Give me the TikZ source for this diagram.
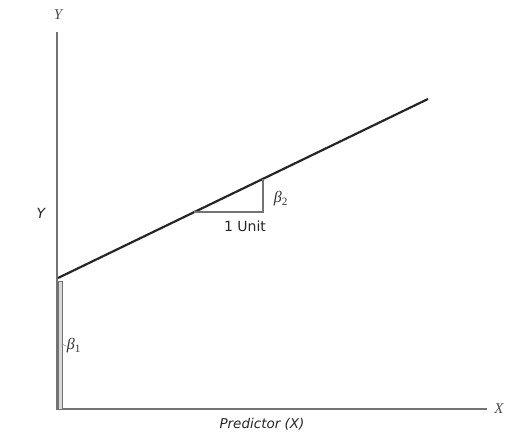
\documentclass[tikz,border=0pt]{standalone}
\usepackage{fontspec}
\newfontfamily\labelfont{DejaVu Sans}
\newfontfamily\axisfont{Liberation Serif}
\usepackage{amsmath}
\usetikzlibrary{positioning, calc}

\begin{document}
\begin{tikzpicture}[
    x=1pt, y=-1pt,
    every node/.style={font=\labelfont\fontsize{14}{16}\selectfont, inner sep=1pt, text=black!85},
    axis/.style={draw=black!55, line width=1.8pt},
    fit line/.style={draw=black!85, line width=2.2pt},
    leg/.style={draw=black!55, line width=1.3pt},
    axlabel/.style={font=\axisfont\itshape\fontsize{15}{17}\selectfont, text=black!70},
    mathlabel/.style={font=\axisfont\itshape\fontsize{16}{18}\selectfont, text=black!80},
    bar/.style={draw=black!55, fill=black!15, line width=0.8pt}
]
    \useasboundingbox (0,0) rectangle (517,434);

    % axes
    \coordinate (o) at (57,409);
    \coordinate (ytop) at (57,32);
    \coordinate (xend) at (487,409);
    \draw[axis] (ytop) -- (o) -- (xend);
    \node[axlabel] (ylab) at (58,15) {Y};
    \node[axlabel] (xlab) at (499,409) {X};
    \node[font=\labelfont\itshape\fontsize{14}{16}\selectfont] (ymid) at (41,213) {Y};
    \node[font=\labelfont\itshape\fontsize{13.5}{16}\selectfont] (xname) at (262,424) {Predictor (X)};

    % intercept bar
    \coordinate (b1top) at (58,281);
    \coordinate (b1bot) at (62,409);
    \draw[bar] (b1top) rectangle (b1bot);
    \node[mathlabel] (b1) at (74,346) {β\textsubscript{\upshape 1}};
    \draw[black!55, line width=0.5pt] (62,344) -- (b1.west);

    % regression line
    \coordinate (l0) at (58,278);
    \coordinate (l1) at (428,99);
    \draw[fit line] (l0) -- (l1);

    % slope triangle
    \coordinate (t0) at (194,212);
    \coordinate (t1) at (263,212);
    \coordinate (t2) at (263,179);
    \draw[leg] (t0) -- (t1) -- (t2);
    \node (unit) at (245,226) {1 Unit};
    \node[mathlabel] (b2) at (281,199) {β\textsubscript{\upshape 2}};
\end{tikzpicture}
\end{document}
